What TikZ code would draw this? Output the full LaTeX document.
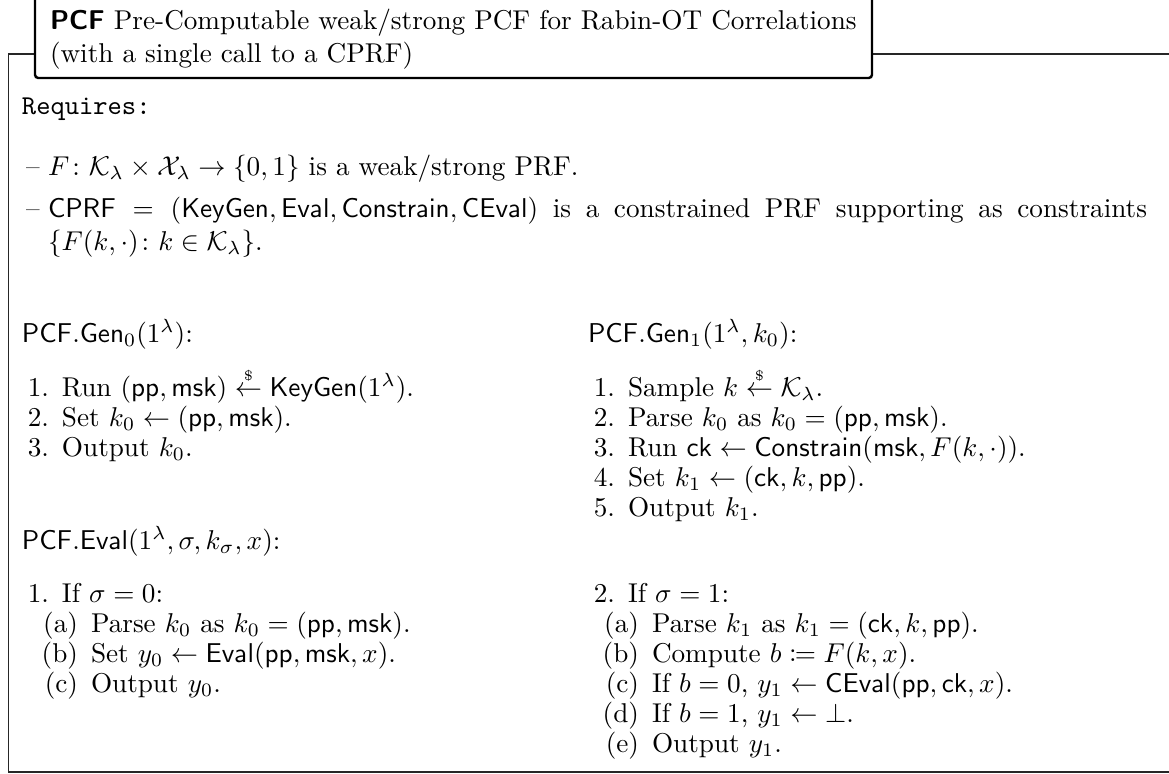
\documentclass[tikz,border=0pt]{standalone}
\usepackage{amsmath,amssymb,mathtools}
\newcommand{\sampleto}{\mathrel{\smash{\overset{\scriptscriptstyle\$}{\leftarrow}}}}
\newcommand{\alg}[1]{\mathsf{#1}}
\begin{document}
\begin{tikzpicture}[x=0.3676pt,y=-0.3676pt,
  txt/.style={anchor=base west, inner sep=0pt, outer sep=0pt},
  lbl/.style={anchor=base east, inner sep=0pt, outer sep=0pt},
  frameline/.style={line width=0.45pt, black!85},
  titlebox/.style={draw, line width=0.9pt, rounded corners=1.2pt, fill=white}]
\useasboundingbox (0,0) rectangle (1169,774);

% outer frame, open on the right
\coordinate (ftl) at (8.5,54);
\coordinate (fbl) at (8.5,772);
\coordinate (ftr) at (1180,54);
\coordinate (fbr) at (1180,772);
\draw[frameline] (ftr) -- (ftl) -- (fbl) -- (fbr);

% title box
\draw[titlebox] (35,-20) rectangle (872,78);
\node[txt] (t1) at (50,29) {\textsf{\textbf{PCF}} Pre-Computable weak/strong PCF for Rabin-OT Correlations};
\node[txt] (t2) at (50,62) {(with a single call to a CPRF)};

% requirements
\node[txt] (req) at (22,114) {\texttt{Requires:}};
\node[txt] (r1d) at (26,175) {--};
\node[txt] (r1) at (48,175) {$F\colon \mathcal{K}_\lambda \times \mathcal{X}_\lambda \to \{0,1\}$ is a weak/strong PRF.};
\node[txt] (r2d) at (26,217) {--};
\node[txt] (r2) at (48,217) {\makebox[404pt][s]{$\alg{CPRF} = (\alg{KeyGen}, \alg{Eval}, \alg{Constrain}, \alg{CEval})$ is a constrained PRF supporting as constraints}};
\node[txt] (r2b) at (48,250) {$\{F(k,\cdot)\colon k \in \mathcal{K}_\lambda\}$.};

% PCF.Gen_0
\node[txt] (g0) at (22,342) {$\alg{PCF.Gen}_0(1^\lambda)$:};
\node[lbl] (g0n1) at (49,396) {1.};
\node[txt] (g0s1) at (62,396) {Run $(\alg{pp},\alg{msk}) \sampleto \alg{KeyGen}(1^\lambda)$.};
\node[lbl] (g0n2) at (49,426) {2.};
\node[txt] (g0s2) at (62,426) {Set $k_0 \leftarrow (\alg{pp},\alg{msk})$.};
\node[lbl] (g0n3) at (49,456) {3.};
\node[txt] (g0s3) at (62,456) {Output $k_0$.};

% PCF.Gen_1
\node[txt] (g1) at (588,342) {$\alg{PCF.Gen}_1(1^\lambda, k_0)$:};
\node[lbl] (g1n1) at (615,396) {1.};
\node[txt] (g1s1) at (628,396) {Sample $k \sampleto \mathcal{K}_\lambda$.};
\node[lbl] (g1n2) at (615,426) {2.};
\node[txt] (g1s2) at (628,426) {Parse $k_0$ as $k_0 = (\alg{pp},\alg{msk})$.};
\node[lbl] (g1n3) at (615,456) {3.};
\node[txt] (g1s3) at (628,456) {Run $\alg{ck} \leftarrow \alg{Constrain}(\alg{msk}, F(k,\cdot))$.};
\node[lbl] (g1n4) at (615,486) {4.};
\node[txt] (g1s4) at (628,486) {Set $k_1 \leftarrow (\alg{ck}, k, \alg{pp})$.};
\node[lbl] (g1n5) at (615,516) {5.};
\node[txt] (g1s5) at (628,516) {Output $k_1$.};

% PCF.Eval
\node[txt] (ev) at (22,549) {$\alg{PCF.Eval}(1^\lambda, \sigma, k_\sigma, x)$:};

\node[lbl] (e0n) at (49,602) {1.};
\node[txt] (e0) at (62,602) {If $\sigma = 0$:};
\node[lbl] (e0an) at (78,632) {(a)};
\node[txt] (e0a) at (91,632) {Parse $k_0$ as $k_0 = (\alg{pp},\alg{msk})$.};
\node[lbl] (e0bn) at (78,662) {(b)};
\node[txt] (e0b) at (91,662) {Set $y_0 \leftarrow \alg{Eval}(\alg{pp},\alg{msk},x)$.};
\node[lbl] (e0cn) at (78,692) {(c)};
\node[txt] (e0c) at (91,692) {Output $y_0$.};

\node[lbl] (e1n) at (615,602) {2.};
\node[txt] (e1) at (628,602) {If $\sigma = 1$:};
\node[lbl] (e1an) at (639,632) {(a)};
\node[txt] (e1a) at (652,632) {Parse $k_1$ as $k_1 = (\alg{ck}, k, \alg{pp})$.};
\node[lbl] (e1bn) at (639,662) {(b)};
\node[txt] (e1b) at (652,662) {Compute $b \coloneqq F(k,x)$.};
\node[lbl] (e1cn) at (639,692) {(c)};
\node[txt] (e1c) at (652,692) {If $b = 0$, $y_1 \leftarrow \alg{CEval}(\alg{pp},\alg{ck},x)$.};
\node[lbl] (e1dn) at (639,722) {(d)};
\node[txt] (e1d) at (652,722) {If $b = 1$, $y_1 \leftarrow \bot$.};
\node[lbl] (e1en) at (639,752) {(e)};
\node[txt] (e1e) at (652,752) {Output $y_1$.};
\end{tikzpicture}
\end{document}
